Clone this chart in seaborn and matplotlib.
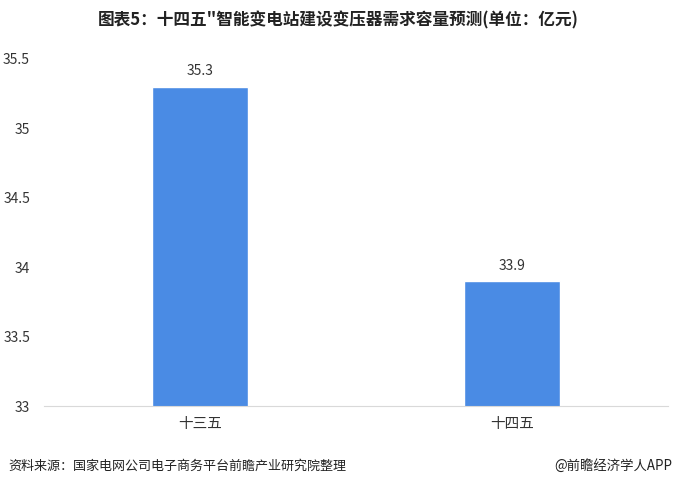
import matplotlib
matplotlib.use("Agg")
import matplotlib.pyplot as plt
import seaborn as sns
import pandas as pd

# chart data
categories = ["十三五", "十四五"]
values = [35.3, 33.9]
y_ticks = [33, 33.5, 34, 34.5, 35, 35.5]

title = "图表5：十四五\"智能变电站建设变压器需求容量预测(单位：亿元)"
source = "资料来源：国家电网公司电子商务平台前瞻产业研究院整理"
credit = "@前瞻经济学人APP"

sns.set_style("white")
plt.rcParams['font.family'] = ['Noto Sans CJK SC', 'DejaVu Sans']

df = pd.DataFrame({"period": categories, "value": values})

fig = plt.figure(figsize=(6.76, 4.87), dpi=100)
ax = fig.add_axes([44 / 676, 1 - 406 / 487, 624 / 676, 347 / 487])

sns.barplot(data=df, x="period", y="value", color="#4a8be4", width=0.31,
            saturation=1, ax=ax)

ax.set_ylim(33, 35.5)
ax.set_yticks(y_ticks)
ax.set_yticklabels([f"{t:g}" for t in y_ticks], fontsize=10, color="#333333")
ax.tick_params(axis="x", labelsize=10.5, colors="#333333", length=0, pad=8)
ax.tick_params(axis="y", length=0, pad=10)
ax.set_xlabel("")
ax.set_ylabel("")

for s in ["top", "right", "left"]:
    ax.spines[s].set_visible(False)
ax.spines["bottom"].set_color("#d9d9d9")

# value labels
for i, v in enumerate(values):
    ax.text(i, v + 0.06, f"{v:.1f}", ha="center", va="bottom", fontsize=10, color="#333333")

fig.text(0.5, 1 - 20 / 487, title, ha="center", va="center", fontsize=12,
         fontweight="bold", color="#222222")
fig.text(8 / 676, 1 - 466 / 487, source, ha="left", va="center", fontsize=9.4, color="#222222")
fig.text(672 / 676, 1 - 466 / 487, credit, ha="right", va="center", fontsize=9.6, color="#222222")

fig.savefig("out.png", dpi=100)
